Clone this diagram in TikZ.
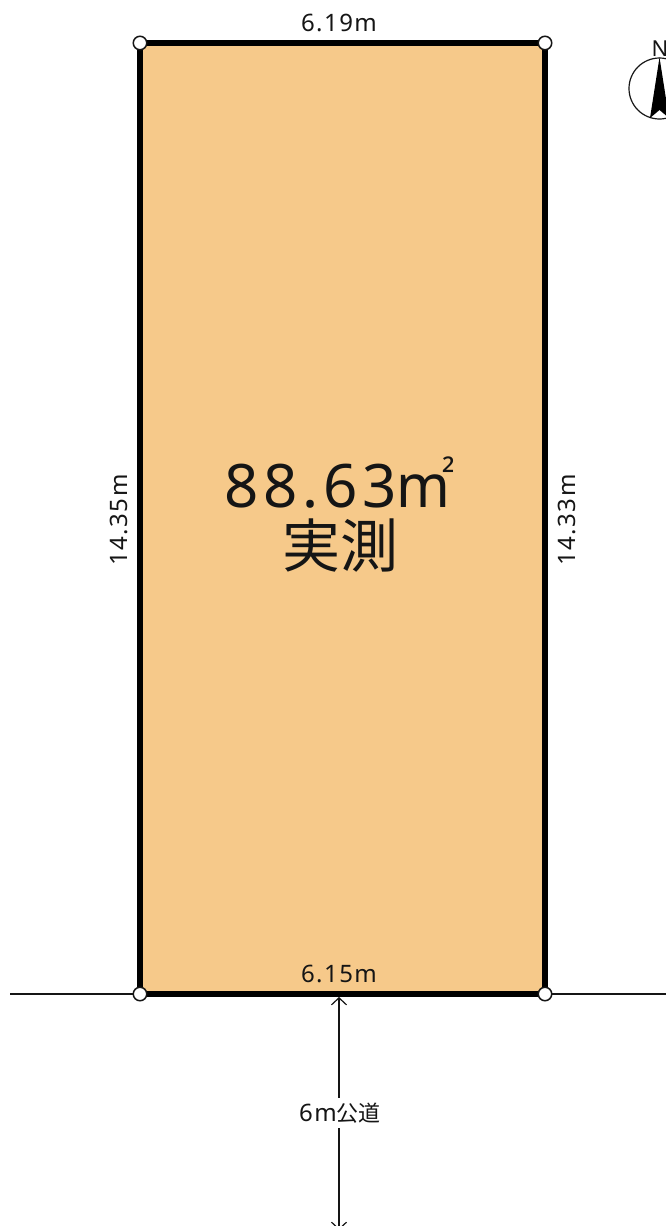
\documentclass[tikz,border=0pt]{standalone}
\usepackage{fontspec}
\setmainfont{Noto Sans CJK JP}
\newfontfamily\latinlab[LetterSpace=6]{Noto Sans}
\newfontfamily\biglab[LetterSpace=8]{Noto Sans}
\newfontfamily\supfont{Noto Sans}
\newfontfamily\cjklab{Noto Sans CJK JP}
\definecolor{lotfill}{HTML}{F6C98A}
\definecolor{ink}{HTML}{151515}
\usetikzlibrary{arrows.meta}
\tikzset{
  lot/.style={draw=black,line width=5.5pt,fill=lotfill,miter limit=10},
  corner/.style={circle,draw=ink,fill=white,line width=1.5pt,minimum size=13.5pt,inner sep=0pt},
  dimlabel/.style={text=ink,inner sep=0pt,font=\latinlab\fontsize{24}{26}\selectfont},
  road/.style={draw=ink,line width=1.2pt},
  roadarrow/.style={road,-{Straight Barb[length=7pt,width=15pt,line width=1.2pt]}}
}
\begin{document}
\begin{tikzpicture}[x=1pt,y=-1pt]
\useasboundingbox (0,0) rectangle (666,1226);
\clip (0,0) rectangle (666,1226);
% road lines
\coordinate (roadL) at (10,994);
\coordinate (roadR) at (666,994);
\coordinate (tl) at (140,43);
\coordinate (tr) at (545,43);
\coordinate (br) at (545,994);
\coordinate (bl) at (140,994);
\draw[road] (roadL) -- (bl);
\draw[road] (br) -- (roadR);
% lot
\draw[lot] (tl) -- (tr) -- (br) -- (bl) -- cycle;
\node[corner] (ctl) at (tl) {};
\node[corner] (ctr) at (tr) {};
\node[corner] (cbr) at (br) {};
\node[corner] (cbl) at (bl) {};
% labels
\node[dimlabel] (top) at (339,23) {6.19m};
\node[dimlabel] (bot) at (339,974) {6.15m};
\node[dimlabel,rotate=90] (left) at (119,520) {14.35m};
\node[dimlabel,rotate=90] (right) at (567,520) {14.33m};
\node[inner sep=0pt,text=ink,anchor=base west] (area) at (224,507) {\biglab\fontsize{60}{60}\selectfont 88.63\scalebox{.96}[1]{m}\hspace{-8pt}\raisebox{20pt}{\supfont\fontsize{36}{36}\selectfont ²}};
\node[inner sep=0pt,text=ink] (meas) at (340,546) {\cjklab\fontsize{58}{58}\selectfont 実測};
% road width arrow
\node[inner sep=2pt,fill=white,text=ink,minimum height=30pt] (roadlab) at (340,1113) {\latinlab\fontsize{24}{26}\selectfont 6m\cjklab\fontsize{22}{26}\selectfont 公道};
\coordinate (upEnd) at (339,997);
\coordinate (downEnd) at (339,1230);
\draw[roadarrow] (roadlab.north -| upEnd) -- (upEnd);
\draw[roadarrow] (roadlab.south -| upEnd) -- (downEnd);
% north mark
\node[circle,draw=ink,fill=white,line width=1.2pt,minimum size=61pt,inner sep=0pt] (compass) at (659.5,88.5) {};
\node[inner sep=0pt,text=ink,font=\latinlab\fontsize{22}{24}\selectfont] (north) at (660,49) {N};
\fill[black] (compass.north) -- (669,118) -- (659.5,110) -- (650,118) -- cycle;
\end{tikzpicture}
\end{document}
